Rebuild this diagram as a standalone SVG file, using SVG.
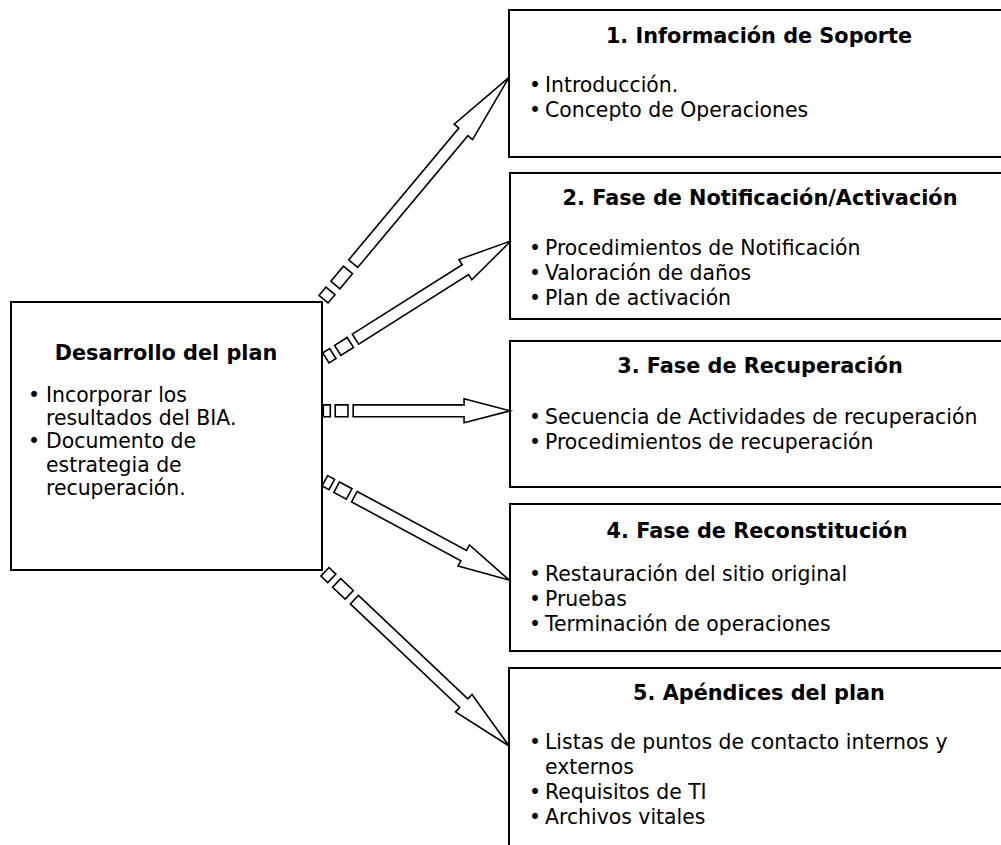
<svg xmlns="http://www.w3.org/2000/svg" xmlns:xlink="http://www.w3.org/1999/xlink" width="1001" height="845" viewBox="0 0 1001 845">
  <style>
    .box { fill: #fff; stroke: #000; stroke-width: 2; }
    .title { font-family: "DejaVu Sans", Verdana, sans-serif; font-size: 20.8px; font-weight: bold; fill: #000; text-anchor: middle; }
    .item { font-family: "DejaVu Sans", Verdana, sans-serif; font-size: 20.4px; fill: #000; }
    .dot { font-family: "DejaVu Sans", Verdana, sans-serif; font-size: 20.4px; fill: #000; text-anchor: middle; }
    .arrow-part { fill: #fff; stroke: #000; stroke-width: 1.6; vector-effect: non-scaling-stroke; stroke-linejoin: miter; }
  </style>
  <defs>
    <!-- striped block arrow, 100 units long along +x, scaled per use along x only -->
    <g id="striped-arrow">
      <rect class="arrow-part" x="0" y="-5.9" width="3.75" height="11.8"/>
      <rect class="arrow-part" x="6.4" y="-5.9" width="6.8" height="11.8"/>
      <polygon class="arrow-part" points="16,-5.9 75.4,-5.9 75.4,-12 100,0 75.4,12 75.4,5.9 16,5.9"/>
    </g>
  </defs>
  <rect width="1001" height="845" fill="#fff"/>

  <g id="desarrollo">
    <rect class="box" x="11" y="302" width="311" height="268"/>
    <text class="title" x="166" y="360">Desarrollo del plan</text>
    <text class="dot" x="34" y="401.5">•</text>
    <text class="item" x="46" y="401.5">Incorporar los</text>
    <text class="item" x="46" y="425">resultados del BIA.</text>
    <text class="dot" x="34" y="448.3">•</text>
    <text class="item" x="46" y="448.3">Documento de</text>
    <text class="item" x="46" y="471.6">estrategia de</text>
    <text class="item" x="46" y="495">recuperación.</text>
  </g>

  <g id="soporte">
    <rect class="box" x="509" y="10" width="500" height="147"/>
    <text class="title" x="759" y="43">1. Información de Soporte</text>
    <text class="dot" x="535" y="92">•</text>
    <text class="item" x="545" y="92">Introducción.</text>
    <text class="dot" x="535" y="117">•</text>
    <text class="item" x="545" y="117">Concepto de Operaciones</text>
  </g>

  <g id="notificacion">
    <rect class="box" x="510" y="173" width="500" height="146"/>
    <text class="title" x="760" y="205">2. Fase de Notificación/Activación</text>
    <text class="dot" x="535" y="255">•</text>
    <text class="item" x="545" y="255">Procedimientos de Notificación</text>
    <text class="dot" x="535" y="280">•</text>
    <text class="item" x="545" y="280">Valoración de daños</text>
    <text class="dot" x="535" y="305">•</text>
    <text class="item" x="545" y="305">Plan de activación</text>
  </g>

  <g id="recuperacion">
    <rect class="box" x="510" y="341" width="500" height="146"/>
    <text class="title" x="760" y="373">3. Fase de Recuperación</text>
    <text class="dot" x="535" y="423.5">•</text>
    <text class="item" x="545" y="423.5">Secuencia de Actividades de recuperación</text>
    <text class="dot" x="535" y="448.5">•</text>
    <text class="item" x="545" y="448.5">Procedimientos de recuperación</text>
  </g>

  <g id="reconstitucion">
    <rect class="box" x="510" y="504" width="500" height="147"/>
    <text class="title" x="757" y="537.5">4. Fase de Reconstitución</text>
    <text class="dot" x="535" y="581">•</text>
    <text class="item" x="545" y="581">Restauración del sitio original</text>
    <text class="dot" x="535" y="606">•</text>
    <text class="item" x="545" y="606">Pruebas</text>
    <text class="dot" x="535" y="631">•</text>
    <text class="item" x="545" y="631">Terminación de operaciones</text>
  </g>

  <g id="apendices">
    <rect class="box" x="509" y="668" width="500" height="200"/>
    <text class="title" x="759" y="700">5. Apéndices del plan</text>
    <text class="dot" x="535" y="749">•</text>
    <text class="item" x="545" y="749">Listas de puntos de contacto internos y</text>
    <text class="item" x="545" y="774">externos</text>
    <text class="dot" x="535" y="799">•</text>
    <text class="item" x="545" y="799">Requisitos de TI</text>
    <text class="dot" x="535" y="824">•</text>
    <text class="item" x="545" y="824">Archivos vitales</text>
  </g>

  <g id="connectors">
    <use xlink:href="#striped-arrow" transform="translate(323.5,299.2) rotate(-50.1) scale(2.892,1)"/>
    <use xlink:href="#striped-arrow" transform="translate(325.9,357.9) rotate(-32.3) scale(2.189,1)"/>
    <use xlink:href="#striped-arrow" transform="translate(323.3,410.8) scale(1.867,1)"/>
    <use xlink:href="#striped-arrow" transform="translate(324.9,480.8) rotate(28.3) scale(2.091,1)"/>
    <use xlink:href="#striped-arrow" transform="translate(324.9,571.8) rotate(43.4) scale(2.535,1)"/>
  </g>
</svg>
